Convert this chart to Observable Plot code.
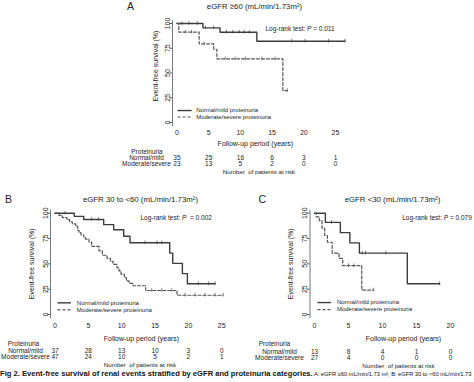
<!DOCTYPE html>
<html><head><meta charset="utf-8">
<script src="https://cdn.jsdelivr.net/npm/d3@7"></script>
<script src="https://cdn.jsdelivr.net/npm/@observablehq/plot@0.6"></script>
<style>
body{margin:0;background:#fff;}
#wrap{position:relative;width:474px;height:382px;overflow:hidden;background:#fff;font-family:"Liberation Sans",Arial,sans-serif;}
.pn{position:absolute;}
#cap{position:absolute;left:0;top:370px;width:474px;overflow:hidden;font-size:5.8px;letter-spacing:-0.06px;line-height:8px;white-space:nowrap;color:#111;}
#cap b{font-size:7.6px;letter-spacing:0;}
</style></head><body>
<div id="wrap">
<div class="pn" id="pa" style="left:0;top:0"></div>
<div class="pn" id="pb" style="left:0;top:180px"></div>
<div class="pn" id="pc" style="left:240px;top:180px"></div>
<div id="cap"><b>Fig 2. Event-free survival of renal events stratified by eGFR and proteinuria categories.</b> A: eGFR ≥60 mL/min/1.73 m², B: eGFR 30 to &lt;60 mL/min/1.73</div>
</div>
<script>
// ---------- data ----------
const yTicks = [0, 25, 50, 75, 100];
const groups = ["Normal/mild proteinuria", "Moderate/severe proteinuria"];
const riskLabels = ["Normal/mild", "Moderate/severe"];

// Panel A: eGFR >=60
const aNormalT = [0, 4.1, 6.8, 12.6];
const aNormalS = [100, 95.6, 91.2, 82.1];
const aNormalEnd = 26.5;
const aNormalCens = [0.8, 1.9, 3.2, 4.5, 5.8, 7.8, 8.8, 9.8, 10.6, 11.4, 18.1, 20.2, 23.9, 26.5];
const aModT = [0, 0.3, 3.5, 5.8, 6.3, 16.7];
const aModS = [100, 91.3, 79.5, 74, 64.3, 32.3];
const aModEnd = 17.4;
const aModCens = [1.3, 2.3, 4.3, 7.6, 9.2, 10.8, 13.4, 15.5, 17.4];
const aRiskT = [0, 5, 10, 15, 20, 25];
const aRiskNormal = [35, 25, 16, 6, 3, 1];
const aRiskMod = [23, 13, 5, 2, 0, 0];

// Panel B: eGFR 30 to <60
const bNormalT = [0, 2.9, 4.3, 7.3, 8.8, 10.3, 11.25, 17.2, 17.65, 19.1, 19.85];
const bNormalS = [100, 96.9, 93.8, 88.7, 83.6, 77.2, 70.8, 60.6, 50.5, 40.4, 30.3];
const bNormalEnd = 24;
const bNormalCens = [1.5, 5.5, 6.5, 13.5, 15.3, 16, 21.5, 23, 24];
const bModT = [0, 0.6, 1.1, 1.8, 2.2, 2.6, 3.1, 3.4, 3.6, 3.9, 4.3, 4.6, 5.1, 5.5, 6.6, 7.1, 7.8, 8.3, 8.7, 9.3, 9.6, 9.9, 10.4, 10.7, 11.1, 11.7, 13.6, 18.3];
const bModS = [100, 97.9, 95.7, 93.6, 91.5, 89.4, 87.2, 83, 80.8, 78.7, 76.5, 74.4, 71.5, 67.2, 62.9, 58.5, 55.5, 52.5, 49.5, 46.2, 43, 39.8, 36.5, 33.2, 30.8, 28.4, 23.7, 19.0];
const bModEnd = 25.2;
const bModCens = [14.5, 16, 17.5, 19.5, 21, 22.5, 24, 25.2];
const bRiskT = [0, 5, 10, 15, 20, 25];
const bRiskNormal = [37, 28, 13, 10, 3, 0];
const bRiskMod = [47, 24, 10, 5, 2, 1];

// Panel C: eGFR <30
const cNormalT = [0, 1.6, 3.8, 5.2, 6.6, 13.65];
const cNormalS = [100, 90.9, 80.8, 70.7, 60.6, 30.3];
const cNormalEnd = 18.4;
const cNormalCens = [2.5, 7.0, 7.5, 10.5, 18.4];
const cModT = [0, 0.25, 0.7, 1.1, 1.5, 1.9, 2.6, 3.6, 4.15, 6.95];
const cModS = [100, 96.3, 92.6, 85.2, 78, 71.3, 60.5, 55.5, 48.2, 24.1];
const cModEnd = 8.7;
const cModCens = [5.0, 5.8, 8.7];
const cRiskT = [0, 5, 10, 15, 20];
const cRiskNormal = [13, 8, 4, 1, 0];
const cRiskMod = [27, 4, 0, 0, 0];

// ---------- helpers ----------
const FONT = '"Liberation Sans", Arial, Helvetica, sans-serif';
const INK = "#222";
function steps(T, S, end) {
  const r = T.map((t, i) => ({t, s: S[i]}));
  r.push({t: end, s: S[S.length - 1]});
  return r;
}
function survAt(T, S, t) { let s = S[0]; for (let i = 0; i < T.length; i++) if (T[i] <= t) s = S[i]; return s; }
function censor(T, S, C) { return C.map(t => ({t, s: survAt(T, S, t)})); }
function lab(text, frameAnchor, dx, dy, o = {}) {
  return Plot.text([text], {frameAnchor, dx, dy, fill: INK, textAnchor: "middle", lineAnchor: "middle", ...o});
}

function panel(c) {
  const series = [
    {T: c.nT, S: c.nS, end: c.nEnd, C: c.nC, stroke: "#3c3c3c", w: 1.4},
    {T: c.mT, S: c.mS, end: c.mEnd, C: c.mC, stroke: "#555", w: 1.2, dash: "3,2"}
  ];
  const marks = [
    Plot.frame({anchor: "left", stroke: "#555", strokeWidth: 0.8}),
    Plot.axisY({ticks: yTicks, tickRotate: -90, tickSize: 2.5, tickPadding: 0.3, label: null, fontSize: 7, fill: INK, stroke: "#555"}),
    Plot.axisX({ticks: c.riskT, tickSize: 0, tickPadding: c.xPad, label: null, fontSize: 7, fill: INK})
  ];
  series.forEach((L, k) => {
    const dashOpt = L.dash ? {strokeDasharray: L.dash} : {};
    marks.push(Plot.line(steps(L.T, L.S, L.end), {x: "t", y: "s", curve: "step-after", stroke: L.stroke, strokeWidth: L.w, ...dashOpt}));
    marks.push(Plot.ruleX(censor(L.T, L.S, L.C), {x: "t", y1: d => d.s - 1.8, y2: d => d.s + 1.8, stroke: L.stroke, strokeWidth: 0.7}));
    // legend
    marks.push(Plot.ruleY([c.legY[k]], {x1: c.legX[0], x2: c.legX[1], stroke: L.stroke, strokeWidth: k ? 1.2 : 1.4, ...dashOpt}));
    marks.push(Plot.text([groups[k]], {x: c.legX[2], y: c.legY[k], textAnchor: "start", lineAnchor: "middle", fontSize: 6, fill: INK}));
    // risk table row
    const nums = k ? c.riskM : c.riskN;
    marks.push(Plot.text(c.riskT, {x: d => d, text: (d, i) => String(nums[i]), frameAnchor: "bottom", dy: c.rowDy[k], textAnchor: "middle", lineAnchor: "middle", fontSize: 6.5, fill: INK}));
    marks.push(lab(riskLabels[k], "bottom-left", c.rowDx, c.rowDy[k], {fontSize: 6.5}));
  });
  marks.push(
    lab(c.title, "top", c.titleDx, c.titleDy, {fontSize: 7.8}),
    lab(c.letter, "top-left", c.letterDx, c.titleDy, {fontSize: 10.5}),
    lab(c.logrank, "top-right", c.lrDx, c.lrDy, {fontSize: 6.5, textAnchor: "start"}),
    lab("Event-free survival (%)", "left", c.ytDx, c.ytDy, {rotate: -90, fontSize: 7}),
    lab("Follow-up period (years)", "bottom", c.xtDx, c.xtDy, {fontSize: 7}),
    lab("Proteinuria", "bottom-left", c.protDx, c.protDy, {fontSize: 6.5}),
    lab("Number\u00a0 of patients at risk", "bottom", c.numDx, c.numDy, {fontSize: 6.2})
  );
  const svg = Plot.plot({
    width: c.w, height: c.h,
    marginTop: c.mt, marginBottom: c.mb, marginLeft: c.ml, marginRight: c.mr,
    x: {domain: c.xdom}, y: {domain: [-3, 103]},
    style: {fontFamily: FONT, fontSize: "7px", color: INK, background: "transparent", overflow: "visible"},
    marks
  });
  svg.querySelectorAll("text").forEach(t => {
    if (t.textContent.startsWith("Log-rank")) {
      const p = t.textContent.split("P");
      t.innerHTML = p[0] + '<tspan font-style="italic">P</tspan>' + p[1];
    }
  });
  return svg;
}

document.getElementById("pa").appendChild(panel({
  w: 474, h: 180, mt: 20, mb: 55, ml: 172, mr: 126.3, xdom: [-0.7, 27],
  nT: aNormalT, nS: aNormalS, nEnd: aNormalEnd, nC: aNormalCens,
  mT: aModT, mS: aModS, mEnd: aModEnd, mC: aModCens,
  riskT: aRiskT, riskN: aRiskNormal, riskM: aRiskMod,
  xPad: 4.5, legX: [0.17, 2.4, 3.03], legY: [12.1, 5.6],
  title: "eGFR ≥60 (mL/min/1.73m²)", titleDx: -5.9, titleDy: -14,
  letter: "A", letterDx: -42,
  logrank: "Log-rank test: P = 0.011", lrDx: -82.7, lrDy: 8.3,
  ytDx: -17, ytDy: -7, xtDx: -5, xtDy: 18,
  protDx: -25.5, protDy: 26, rowDx: -26, rowDy: [32, 38],
  numDx: -1.5, numDy: 47
}));

document.getElementById("pb").appendChild(panel({
  w: 240, h: 190, mt: 29.66, mb: 52.96, ml: 50, mr: 12.1, xdom: [-0.675, 26],
  nT: bNormalT, nS: bNormalS, nEnd: bNormalEnd, nC: bNormalCens,
  mT: bModT, mS: bModS, mEnd: bModEnd, mC: bModCens,
  riskT: bRiskT, riskN: bRiskNormal, riskM: bRiskMod,
  xPad: 5.5, legX: [0.45, 2.47, 3.27], legY: [11.5, 4.6],
  title: "eGFR 30 to <60 (mL/min/1.73m²)", titleDx: 1, titleDy: -10.66,
  letter: "B", letterDx: -42,
  logrank: "Log-rank test: P  = 0.002", lrDx: -87.9, lrDy: 7.64,
  ytDx: -18.5, ytDy: 0, xtDx: 2, xtDy: 21,
  protDx: -27, protDy: 26.5, rowDx: -25, rowDy: [33.8, 39.5],
  numDx: 0.5, numDy: 47
}));

document.getElementById("pc").appendChild(panel({
  w: 234, h: 190, mt: 29.66, mb: 52.96, ml: 69.5, mr: 3.6, xdom: [-0.662, 23],
  nT: cNormalT, nS: cNormalS, nEnd: cNormalEnd, nC: cNormalCens,
  mT: cModT, mS: cModS, mEnd: cModEnd, mC: cModCens,
  riskT: cRiskT, riskN: cRiskNormal, riskM: cRiskMod,
  xPad: 5.5, legX: [0.51, 2.5, 3.3], legY: [11.8, 4.9],
  title: "eGFR <30 (mL/min/1.73m²)", titleDx: 2, titleDy: -10.66,
  letter: "C", letterDx: -47.8,
  logrank: "Log-rank test: P = 0.079", lrDx: -68.7, lrDy: 7.64,
  ytDx: -19.5, ytDy: 0, xtDx: 13, xtDy: 21,
  protDx: -35.5, protDy: 26.5, rowDx: -30.5, rowDy: [34.2, 40.2],
  numDx: 8, numDy: 48
}));
</script>
</body></html>
